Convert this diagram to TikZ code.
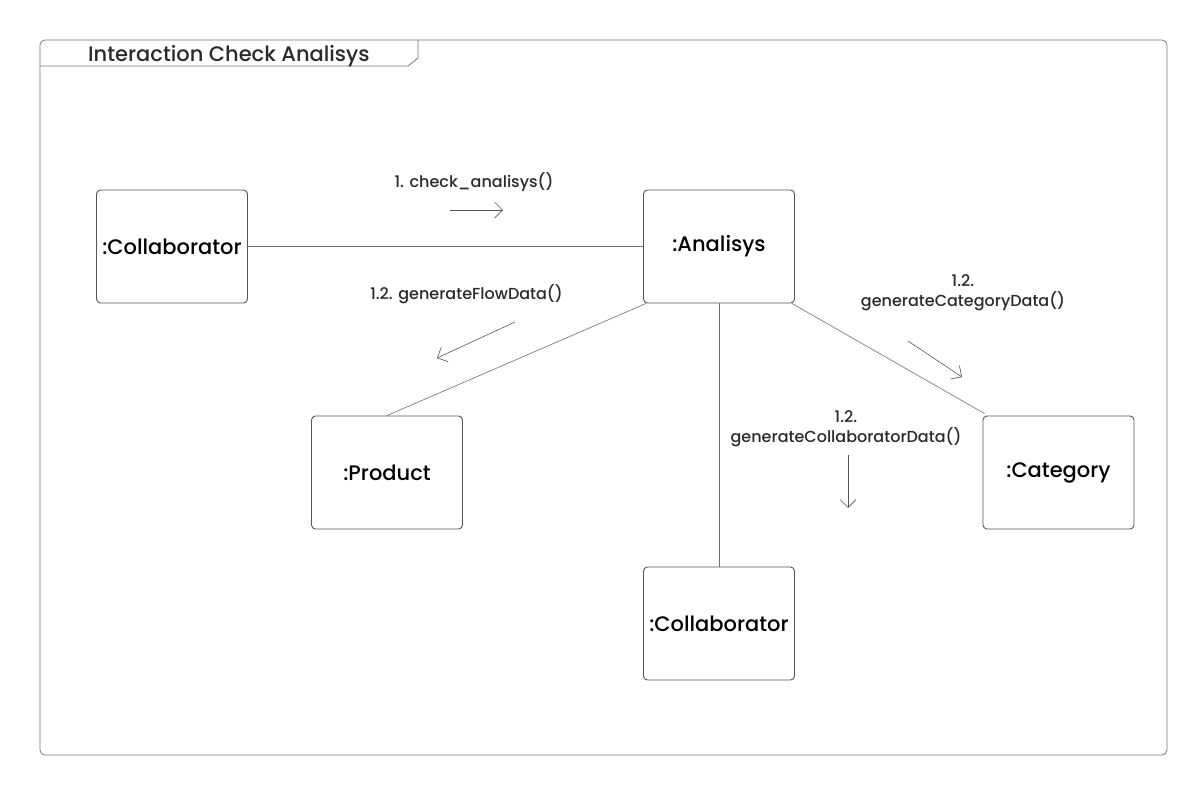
\documentclass[tikz,border=0pt]{standalone}
\usepackage{fontspec}
\setmainfont{Poppins}[UprightFont=* Medium]
\usetikzlibrary{arrows.meta}
\definecolor{edge}{HTML}{555555}
\definecolor{txt}{HTML}{2a2a2a}
\begin{document}
\begin{tikzpicture}[x=1pt,y=-1pt,
  obj/.style={draw=edge,line width=0.9pt,rounded corners=4pt,minimum width=151pt,minimum height=113pt,inner sep=0pt,font=\fontsize{21}{24}\selectfont,text=black},
  link/.style={draw=edge!85,line width=0.6pt},
  msg/.style={draw=edge,line width=0.6pt,-{Straight Barb[length=8pt,width=16pt,line width=0.6pt]}},
  lbl/.style={font=\fontsize{16}{19.5}\selectfont,text=txt,align=center,inner sep=0pt,anchor=base}]
\useasboundingbox (0,0) rectangle (1202,796);
% frame
\draw[draw=edge!80,line width=0.8pt,rounded corners=5pt] (40,40) rectangle (1167,755);
\draw[draw=edge!80,line width=0.8pt] (40,66) -- (408,66) -- (418,58) -- (418,40);
\node[font=\fontsize{21}{24}\selectfont,text=txt,anchor=base west,inner sep=0pt] (title) at (88,61) {Interaction Check Analisys};
% objects
\node[obj] (c1) at (172,246.5) {:Collaborator};
\node[obj] (an) at (719,246.5) {:Analisys};
\node[obj] (pr) at (387,472.5) {:Product};
\node[obj] (ca) at (1058.5,472.5) {:Category};
\node[obj] (c2) at (719,623.5) {:Collaborator};
% links
\draw[link] (c1.east) -- (c1.east -| an.west);
\draw[link] ([xshift=3pt]an.south west) -- (pr.north);
\draw[link] (an.south) -- (c2.north);
\draw[link] ([xshift=-3pt]an.south east) -- ([xshift=2pt,yshift=2pt]ca.north west);
% messages
\coordinate (m1a) at (450,210); \coordinate (m1b) at (503,210);
\draw[msg] (m1a) -- (m1b);
\node[lbl] (l1) at (474,187) {1. check\_analisys()};
\coordinate (m2a) at (515,322); \coordinate (m2b) at (437,358);
\draw[msg] (m2a) -- (m2b);
\node[lbl] (l2) at (466.5,299) {1.2. generateFlowData()};
\coordinate (m3a) at (908,341); \coordinate (m3b) at (962,377);
\draw[msg] (m3a) -- (m3b);
\node[lbl] (l3) at (963,306) {1.2.\\generateCategoryData()};
\coordinate (m4a) at (848,455); \coordinate (m4b) at (848,508);
\draw[msg] (m4a) -- (m4b);
\node[lbl] (l4) at (846,442) {1.2.\\generateCollaboratorData()};
\end{tikzpicture}
\end{document}
